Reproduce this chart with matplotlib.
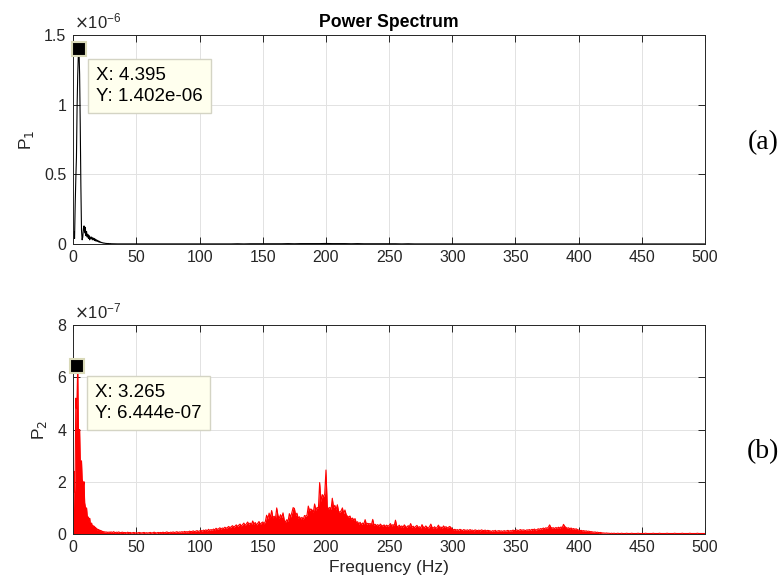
import numpy as np
import matplotlib
matplotlib.use("Agg")
import matplotlib.pyplot as plt
from matplotlib.ticker import FuncFormatter

plt.rcParams['font.family'] = ['Liberation Sans', 'DejaVu Sans']

# frequency grids (Hz)
f1_low = np.arange(0, 30.01, 0.5)
f1_high = np.arange(35, 500.01, 5)
f2_low = np.arange(0, 29.51, 0.5)
f2_high = np.arange(30, 500.01, 1)

# P1 values, units of 1e-6
p1_low = [0.02, 0.09, 0.04, 0.28, 0.47, 0.62, 0.98, 1.21, 1.36, 1.402,
          1.22, 0.86, 0.42, 0.10, 0.03, 0.05, 0.11, 0.13, 0.08, 0.12,
          0.06, 0.09, 0.05, 0.07, 0.04, 0.06, 0.03, 0.05, 0.04, 0.05,
          0.03, 0.045, 0.03, 0.04, 0.025, 0.035, 0.02, 0.03, 0.02, 0.025,
          0.015, 0.02, 0.012, 0.015, 0.01, 0.012, 0.008, 0.009, 0.006, 0.007,
          0.005, 0.005, 0.004, 0.004, 0.003, 0.004, 0.003, 0.003, 0.002, 0.003,
          0.002]
p1_high = [0.001, 0.001, 0.001, 0.001, 0.001, 0.001, 0.001, 0.001, 0.001, 0.001,
           0.001, 0.001, 0.001,
           0.001, 0.001, 0.001, 0.001, 0.001, 0.001, 0.002, 0.001, 0.002, 0.002,
           0.002, 0.002, 0.002, 0.002, 0.003, 0.002, 0.003, 0.003, 0.003, 0.003,
           0.004, 0.003, 0.003, 0.003, 0.002, 0.003, 0.002, 0.002, 0.002, 0.002,
           0.002, 0.002, 0.001, 0.002, 0.001, 0.001, 0.001, 0.001, 0.001, 0.001,
           0.001, 0.001, 0.001, 0.001, 0.001, 0.001, 0.001, 0.001, 0.001, 0.001,
           0.001, 0.001, 0.001, 0.001, 0.001, 0.001, 0.001, 0.001, 0.001, 0.001,
           0.001, 0.0005, 0.0005, 0.0005, 0.0005, 0.0005, 0.0005, 0.0005, 0.0005, 0.0005,
           0.0005, 0.0005, 0.0005, 0.0005, 0.0005, 0.0005, 0.0005, 0.0005, 0.0005, 0.0005,
           0.0005]

# P2 values, units of 1e-8
p2_low = [2, 24, 16, 24, 52, 48, 53, 64.44, 41, 36,
          40, 28, 25, 28, 21, 20, 18, 20, 12, 10.5,
          9, 10, 7, 6, 6.5, 5, 6, 4, 3.5, 4.2,
          3, 3.3, 2.8, 3, 2.2, 2.6, 2, 2.2, 1.5, 1.8,
          1.4, 1.6, 1.2, 1.4, 1.0, 1.2, 0.9, 1.0, 0.8, 0.9,
          0.7, 0.8, 0.7, 0.8, 0.6, 0.7, 0.7, 0.6, 0.8, 0.6]
p2_high = [
    0.8, 0.6, 0.9, 0.5, 0.7, 0.6, 0.8, 0.5, 0.6, 0.7,   # 30
    0.5, 0.6, 0.4, 0.7, 0.5, 0.6, 0.4, 0.5, 0.6, 0.4,   # 40
    0.5, 0.4, 0.6, 0.5, 0.4, 0.5, 0.6, 0.4, 0.5, 0.4,   # 50
    0.5, 0.6, 0.4, 0.5, 0.7, 0.5, 0.4, 0.6, 0.5, 0.6,   # 60
    0.5, 0.7, 0.5, 0.6, 0.8, 0.6, 0.5, 0.7, 0.6, 0.8,   # 70
    0.6, 0.7, 0.9, 0.6, 0.8, 0.7, 0.9, 0.7, 1.0, 0.8,   # 80
    0.9, 0.8, 1.1, 0.9, 1.0, 1.2, 0.9, 1.1, 1.3, 1.0,   # 90
    1.2, 1.4, 1.1, 1.5, 1.3, 1.6, 1.2, 1.8, 1.4, 1.7,   # 100
    1.5, 1.9, 1.6, 2.2, 1.8, 2.0, 2.4, 1.9, 2.3, 2.1,   # 110
    2.6, 2.2, 2.5, 2.9, 2.4, 2.8, 3.2, 2.7, 3.0, 3.5,   # 120
    2.9, 3.4, 3.8, 3.1, 3.6, 4.2, 3.3, 3.9, 4.6, 3.7,   # 130
    4.2, 3.6, 5.0, 3.8, 4.4, 3.5, 4.1, 4.8, 3.7, 4.3,   # 140
    4.6, 3.9, 4.8, 7.2, 5.8, 8.0, 6.4, 9.0, 6.2, 6.8,   # 150
    5.9, 10.0, 7.1, 6.0, 7.4, 6.3, 8.1, 5.2, 4.6, 5.5,  # 160
    4.9, 7.8, 6.5, 8.2, 10.1, 9.8, 7.2, 8.0, 6.1, 6.6,  # 170
    5.8, 6.4, 5.6, 7.1, 6.8, 7.3, 10.7, 8.9, 9.6, 9.2,  # 180
    8.4, 11.5, 9.1, 10.2, 9.8, 19.7, 12.4, 15.1, 14.2, 15.4,  # 190
    24.5, 10.5, 9.6, 10.2, 9.4, 13.7, 10.1, 11.0, 9.3, 11.2,  # 200
    8.6, 8.4, 8.9, 10.0, 7.8, 9.2, 7.4, 6.8, 6.5, 6.9,  # 210
    5.6, 6.1, 5.4, 5.9, 4.3, 4.7, 3.8, 4.5, 3.6, 4.2,   # 220
    3.9, 5.5, 3.7, 4.1, 3.9, 4.0, 3.6, 5.6, 3.4, 3.7,   # 230
    3.2, 3.6, 3.0, 3.8, 3.3, 3.1, 3.5, 2.9, 3.4, 3.0,   # 240
    3.3, 4.0, 3.1, 3.6, 3.2, 5.3, 3.0, 2.8, 3.4, 2.7,   # 250
    3.1, 2.6, 3.5, 2.9, 2.5, 3.2, 2.8, 4.0, 2.6, 3.0,   # 260
    2.4, 2.9, 3.3, 2.5, 2.8, 2.3, 3.6, 2.7, 2.4, 3.1,   # 270
    2.6, 2.2, 2.9, 3.8, 2.5, 2.3, 2.8, 2.1, 2.6, 3.4,   # 280
    2.4, 2.7, 2.2, 3.1, 2.5, 2.8, 2.3, 2.6, 2.9, 2.4,   # 290
    1.9, 1.6, 1.8, 1.5, 1.7, 1.4, 1.8, 1.6, 1.3, 1.7,   # 300
    1.5, 1.4, 1.6, 1.3, 1.7, 1.4, 1.5, 1.2, 1.6, 1.4,   # 310
    1.3, 1.5, 1.2, 1.6, 1.4, 1.3, 1.5, 1.2, 1.4, 1.3,   # 320
    1.2, 1.0, 1.3, 1.1, 1.4, 1.0, 1.2, 1.3, 1.1, 1.2,   # 330
    1.0, 1.3, 1.1, 1.2, 1.4, 1.1, 1.3, 1.2, 1.5, 1.3,   # 340
    1.4, 1.6, 1.3, 1.5, 1.7, 1.4, 1.6, 1.5, 1.3, 1.6,   # 350
    1.5, 1.7, 1.4, 1.8, 1.6, 1.9, 1.5, 1.7, 2.0, 1.8,   # 360
    2.1, 1.9, 2.3, 2.0, 2.4, 2.2, 2.6, 3.5, 2.5, 2.3,   # 370
    2.4, 2.1, 2.5, 2.2, 2.6, 2.3, 2.7, 2.4, 3.7, 2.9,   # 380
    2.5, 2.2, 2.4, 2.0, 2.3, 1.9, 2.1, 1.8, 2.0, 1.7,   # 390
    1.5, 1.3, 1.4, 1.2, 1.3, 1.1, 1.2, 1.0, 1.1, 0.9,   # 400
    0.9, 0.8, 0.7, 0.8, 0.6, 0.7, 0.5, 0.6, 0.5, 0.4,   # 410
    0.4, 0.3, 0.4, 0.3, 0.3, 0.2, 0.3, 0.2, 0.3, 0.2,   # 420
    0.2, 0.3, 0.2, 0.2, 0.3, 0.2, 0.2, 0.2, 0.3, 0.2,   # 430
    0.2, 0.2, 0.3, 0.2, 0.2, 0.2, 0.2, 0.3, 0.2, 0.2,   # 440
    0.2, 0.2, 0.2, 0.3, 0.2, 0.2, 0.2, 0.2, 0.2, 0.3,   # 450
    0.2, 0.2, 0.2, 0.2, 0.3, 0.2, 0.2, 0.2, 0.2, 0.2,   # 460
    0.3, 0.2, 0.2, 0.2, 0.2, 0.2, 0.3, 0.2, 0.2, 0.2,   # 470
    0.2, 0.2, 0.3, 0.2, 0.2, 0.2, 0.2, 0.2, 0.3, 0.2,   # 480
    0.2, 0.2, 0.2, 0.2, 0.3, 0.2, 0.2, 0.2, 0.2, 0.2,   # 490
    0.2]                                                # 500

# data tips
tip1_x, tip1_y = 4.395, 1.402e-6
tip2_x, tip2_y = 3.265, 6.444e-7

f1 = np.concatenate([f1_low, f1_high])
p1 = np.concatenate([p1_low, p1_high]) * 1e-6
f2 = np.concatenate([f2_low, f2_high])
p2 = np.concatenate([p2_low, p2_high]) * 1e-8

dark = '#262626'
fig = plt.figure(figsize=(7.83, 5.88), dpi=100)
ax1 = fig.add_axes([0.0936, 0.585, 0.8068, 0.3554])
ax2 = fig.add_axes([0.0936, 0.0918, 0.8068, 0.3554])


def style_axes(ax, ymax, ystep, exp):
    ax.set_xlim(0, 500)
    ax.set_ylim(0, ymax)
    ax.set_xticks(np.arange(0, 501, 50))
    ax.set_yticks(np.arange(0, ymax * 1.0001, ystep))
    ax.yaxis.set_major_formatter(FuncFormatter(lambda v, _: f'{v / 10**exp:g}'))
    ax.grid(True, color='#e2e2e2', linewidth=0.7)
    ax.set_axisbelow(True)
    ax.tick_params(direction='in', length=5, width=0.7, colors=dark,
                   labelsize=11.5, top=True, right=True)
    ax.tick_params(axis='y', pad=5)
    ax.tick_params(axis='x', pad=4)
    for s in ax.spines.values():
        s.set_color(dark)
        s.set_linewidth(0.7)
    ax.annotate(r'$\times\mathregular{10^{%d}}$' % exp, xy=(0, 1),
                xycoords='axes fraction', xytext=(1, 4), textcoords='offset pixels',
                ha='left', va='bottom', fontsize=12, color=dark)


def data_tip(ax, x, y, txt):
    ax.plot([x], [y], 's', ms=10, mfc='black', mec='#d9d9b8', mew=1.5,
            clip_on=False, zorder=6)
    ax.annotate(txt, xy=(x, y), xytext=(17.5, -18.5), textcoords='offset pixels',
                ha='left', va='top', fontsize=13.5, color='black', linespacing=1.3,
                bbox=dict(boxstyle='square,pad=0.43', fc='#ffffee', ec='#d4d4c4', lw=1),
                zorder=7)


style_axes(ax1, 1.5e-6, 0.5e-6, -6)
ax1.plot(f1, p1, color='black', linewidth=0.8)
ax1.set_title('Power Spectrum', fontsize=12.7, fontweight='bold', color='black', pad=6)
ax1.set_ylabel('P$_1$', fontsize=12.5, color=dark, labelpad=6)
data_tip(ax1, tip1_x, tip1_y, f'X: {tip1_x}\nY: {tip1_y:.3e}')

style_axes(ax2, 8e-7, 2e-7, -7)
ax2.fill_between(f2, 0, p2, color='red', linewidth=0)
ax2.plot(f2, p2, color='red', linewidth=0.8)
ax2.set_ylabel('P$_2$', fontsize=12.5, color=dark, labelpad=6)
ax2.set_xlabel('Frequency (Hz)', fontsize=12.5, color=dark, labelpad=4)
data_tip(ax2, tip2_x, tip2_y, f'X: {tip2_x}\nY: {tip2_y:.3e}')

fig.text(0.975, 1 - 143 / 588, '(a)', family='Liberation Serif', fontsize=20,
         ha='center', va='center')
fig.text(0.975, 1 - 452 / 588, '(b)', family='Liberation Serif', fontsize=20,
         ha='center', va='center')

fig.savefig('out.png', dpi=100)
